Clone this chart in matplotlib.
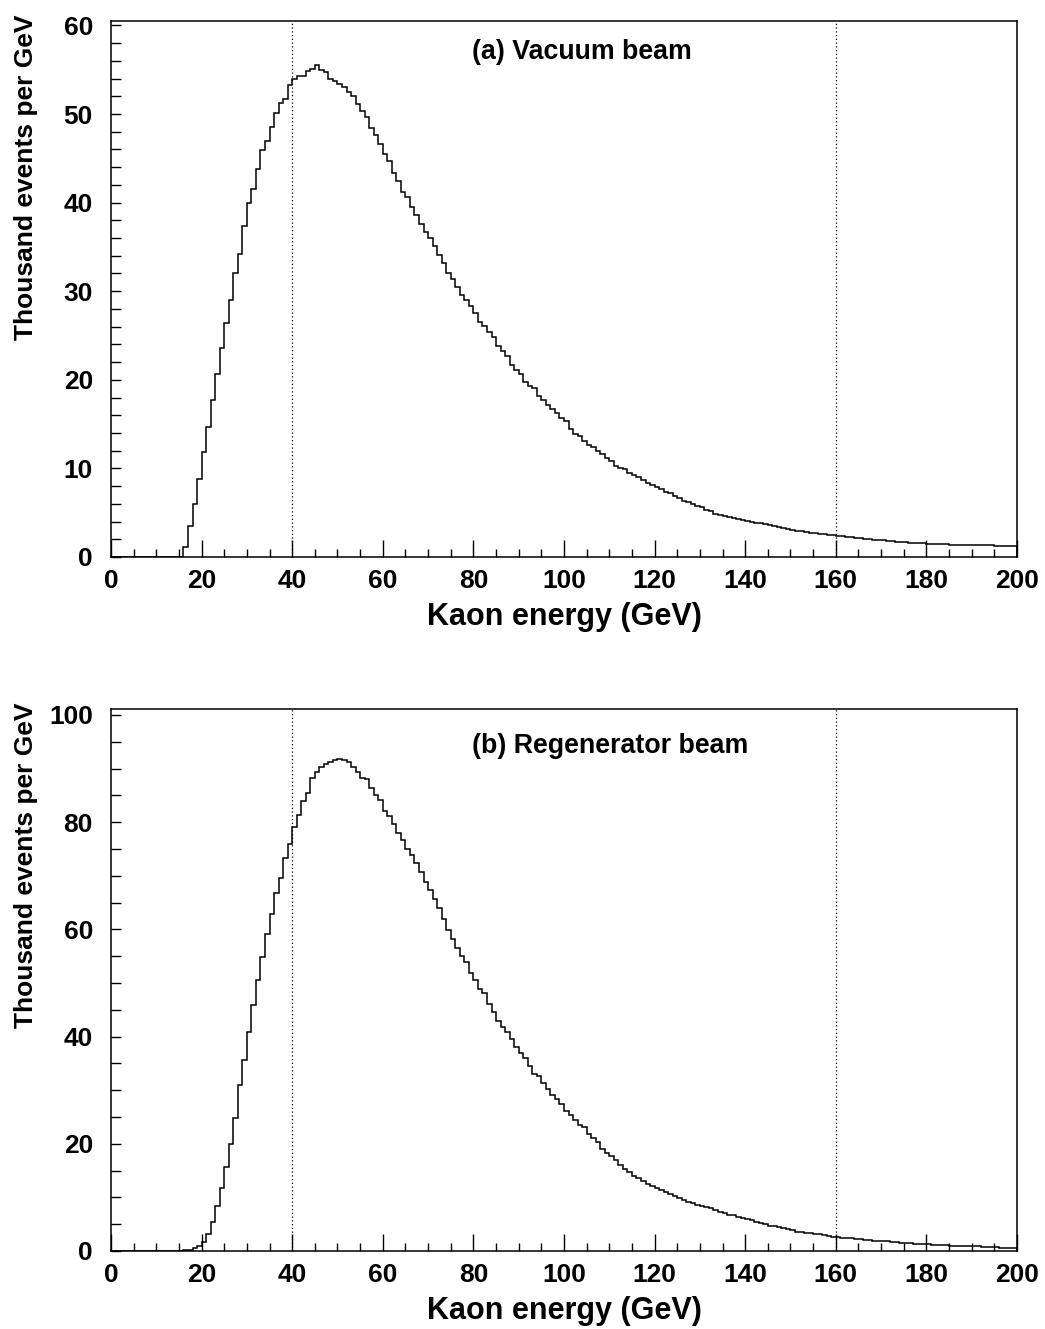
import numpy as np
import matplotlib
matplotlib.use("Agg")
import matplotlib.pyplot as plt
from matplotlib.ticker import MultipleLocator

plt.rcParams['font.family'] = ['Liberation Sans', 'DejaVu Sans']
plt.rcParams['font.weight'] = 'bold'

# 1 GeV bins from 0 to 200 GeV
bin_edges = np.arange(0, 201, 1)
cut_energies = [40, 160]

# thousand events per GeV, vacuum beam
vacuum_counts = (
    [0.0] * 16 +
    [1.1, 3.5, 6.0, 8.8,                                               # 16-19
     11.9, 14.7, 17.7, 20.6, 23.6, 26.4, 29.0, 32.1, 34.2, 37.4,        # 20-29
     39.9, 41.5, 43.8, 45.9, 46.9, 48.5, 50.1, 51.3, 51.7, 53.3,        # 30-39
     53.9, 54.3, 54.3, 54.9, 55.1, 55.5, 55.0, 54.7, 53.9, 53.7,        # 40-49
     53.4, 53.0, 52.5, 52.0, 51.1, 50.3, 49.7, 48.4, 47.6, 46.6,        # 50-59
     45.5, 44.7, 43.3, 42.4, 41.2, 40.6, 39.5, 38.6, 37.6, 36.7,        # 60-69
     36.0, 35.1, 34.1, 33.2, 32.1, 31.4, 30.5, 29.6, 29.0, 28.3,        # 70-79
     27.5, 26.5, 26.1, 25.4, 24.8, 23.8, 23.2, 22.7, 21.7, 21.1,        # 80-89
     20.7, 19.8, 19.3, 19.1, 18.2, 17.7, 17.1, 16.7, 16.2, 15.7,        # 90-99
     15.4, 14.4, 13.9, 13.7, 13.1, 12.6, 12.4, 12.0, 11.6, 11.2,        # 100-109
     10.8, 10.3, 10.1, 9.9, 9.5, 9.3, 9.0, 8.7, 8.4, 8.1,               # 110-119
     7.9, 7.7, 7.3, 7.2, 6.9, 6.7, 6.3, 6.2, 6.0, 5.8,                  # 120-129
     5.6, 5.3, 5.2, 4.9, 4.7, 4.6, 4.5, 4.4, 4.3, 4.15,                 # 130-139
     4.05, 3.95, 3.85, 3.8, 3.72, 3.6, 3.5, 3.4, 3.3, 3.15,             # 140-149
     3.05, 2.98, 2.9, 2.82, 2.75, 2.68, 2.6, 2.55, 2.5, 2.45,           # 150-159
     2.4, 2.33, 2.27, 2.2, 2.15, 2.1, 2.05, 2.0, 1.96, 1.92,            # 160-169
     1.87, 1.82, 1.78, 1.73, 1.68, 1.65, 1.62, 1.6, 1.57, 1.54,         # 170-179
     1.52, 1.5, 1.47, 1.44, 1.41, 1.38, 1.37, 1.36, 1.35, 1.34,         # 180-189
     1.34, 1.33, 1.33, 1.31, 1.3, 1.29, 1.28, 1.27, 1.27, 1.27]         # 190-199
)

# thousand events per GeV, regenerator beam
regen_counts = (
    [0.0] * 16 +
    [0.1, 0.2, 0.5, 0.9,                                               # 16-19
     1.7, 3.2, 5.5, 8.3, 11.7, 15.6, 20.0, 24.8, 30.9, 35.6,            # 20-29
     40.8, 45.8, 50.5, 54.8, 59.2, 62.8, 66.7, 69.5, 73.3, 76.0,        # 30-39
     79.0, 81.3, 83.9, 85.5, 88.2, 89.3, 90.2, 90.8, 91.3, 91.6,        # 40-49
     91.8, 91.5, 91.2, 90.2, 89.3, 88.2, 88.0, 86.4, 85.0, 84.2,        # 50-59
     82.1, 81.1, 79.7, 77.9, 76.7, 75.0, 73.9, 72.4, 70.7, 68.9,        # 60-69
     67.3, 65.7, 64.0, 61.9, 59.8, 58.2, 56.5, 55.1, 54.0, 51.9,        # 70-79
     50.6, 48.8, 48.2, 46.0, 44.5, 42.9, 41.7, 40.8, 39.6, 38.0,        # 80-89
     37.0, 36.0, 34.5, 33.1, 32.7, 31.3, 30.3, 29.1, 28.4, 27.5,        # 90-99
     26.2, 25.4, 24.5, 23.5, 23.2, 21.9, 21.0, 20.4, 19.0, 18.2,        # 100-109
     17.7, 16.9, 16.1, 15.3, 14.8, 14.0, 13.6, 13.1, 12.5, 12.1,        # 110-119
     11.8, 11.4, 11.0, 10.7, 10.2, 9.9, 9.6, 9.2, 8.9, 8.6,             # 120-129
     8.4, 8.2, 8.1, 7.7, 7.3, 7.1, 6.8, 6.7, 6.3, 6.2,                  # 130-139
     6.0, 5.7, 5.5, 5.3, 5.0, 4.7, 4.6, 4.4, 4.3, 4.1,                  # 140-149
     3.9, 3.6, 3.5, 3.4, 3.3, 3.2, 3.1, 3.0, 2.85, 2.7,                 # 150-159
     2.6, 2.5, 2.45, 2.35, 2.3, 2.2, 2.1, 2.05, 1.95, 1.9,              # 160-169
     1.85, 1.78, 1.7, 1.62, 1.55, 1.5, 1.45, 1.38, 1.32, 1.28,          # 170-179
     1.22, 1.18, 1.15, 1.1, 1.06, 1.02, 0.98, 0.95, 0.92, 0.9,          # 180-189
     0.86, 0.84, 0.8, 0.78, 0.75, 0.72, 0.55, 0.5, 0.62, 0.64]          # 190-199
)

panels = [
    dict(counts=vacuum_counts, label='(a) Vacuum beam', ymax=60.5,
         major=10, minor=2, text_y=0.942,
         rect=[0.1062, 0.5809, 0.867, 0.4033]),
    dict(counts=regen_counts, label='(b) Regenerator beam', ymax=101.1,
         major=20, minor=5, text_y=0.932,
         rect=[0.1062, 0.0587, 0.867, 0.4078]),
]

fig = plt.figure(figsize=(10.45, 13.29), dpi=100)

for p in panels:
    ax = fig.add_axes(p['rect'])
    ax.stairs(p['counts'], bin_edges, color='black', linewidth=1.1)
    for e in cut_energies:
        ax.axvline(e, color='black', linestyle=(0, (1, 2)), linewidth=0.9)

    ax.set_xlim(0, 200)
    ax.set_ylim(0, p['ymax'])
    ax.xaxis.set_major_locator(MultipleLocator(20))
    ax.xaxis.set_minor_locator(MultipleLocator(5))
    ax.yaxis.set_major_locator(MultipleLocator(p['major']))
    ax.yaxis.set_minor_locator(MultipleLocator(p['minor']))
    ax.tick_params(axis='x', which='major', direction='in', length=12,
                   width=1.0, labelsize=19, pad=9)
    ax.tick_params(axis='x', which='minor', direction='in', length=6, width=1.0)
    ax.tick_params(axis='y', which='major', direction='in', length=7,
                   width=1.0, labelsize=19, pad=13)
    ax.tick_params(axis='y', which='minor', direction='in', length=7, width=1.0)
    for lab in ax.get_xticklabels() + ax.get_yticklabels():
        lab.set_fontweight('bold')
    for s in ax.spines.values():
        s.set_linewidth(1.1)

    ax.set_xlabel('Kaon energy (GeV)', fontsize=22, fontweight='bold',
                  labelpad=6)
    ax.set_ylabel('Thousand events per GeV', fontsize=19, fontweight='bold',
                  loc='top')
    ax.yaxis.set_label_coords(-0.08, 1.012)
    ax.text(0.398, p['text_y'], p['label'], transform=ax.transAxes,
            fontsize=19.3, fontweight='bold', ha='left', va='center')

fig.savefig('out.png', dpi=100)
